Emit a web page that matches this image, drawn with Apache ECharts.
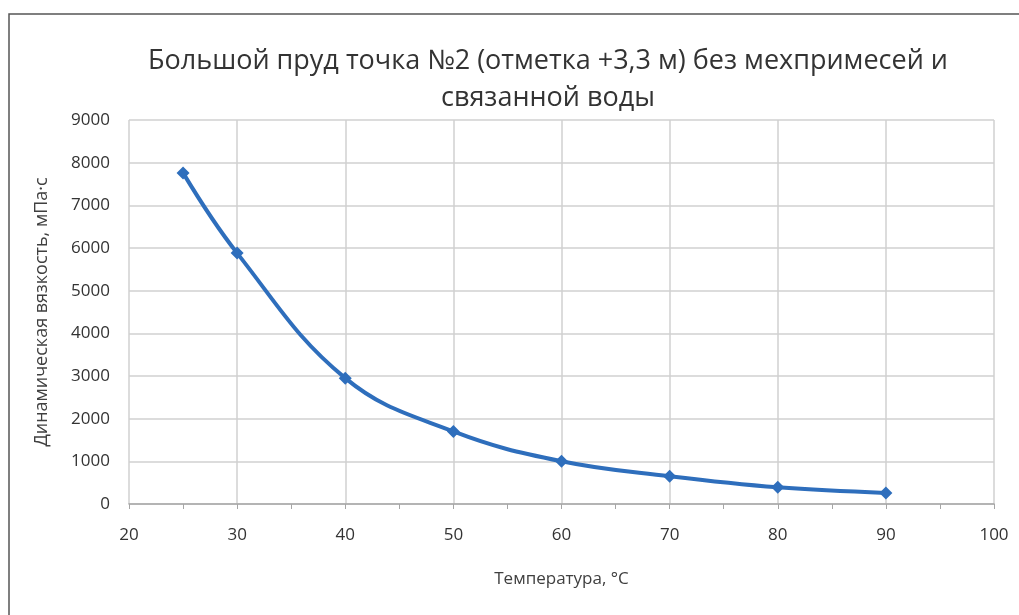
<!DOCTYPE html>
<html>
<head>
<meta charset="utf-8">
<script src="https://cdn.jsdelivr.net/npm/echarts@6/dist/echarts.min.js"></script>
<style>
html,body{margin:0;padding:0;background:#fff;}
#chart{width:1019px;height:615px;}
</style>
</head>
<body>
<div id="chart"></div>
<script>
const titleText = 'Большой пруд точка №2 (отметка +3,3 м) без мехпримесей и\nсвязанной воды';
const xAxisName = 'Температура, °C';
const yAxisName = 'Динамическая вязкость, мПа·с';
const temperatures = [25, 30, 40, 50, 60, 70, 80, 90];
const viscosity = [7760, 5880, 2950, 1700, 1000, 650, 390, 260];
const xTicks = [20, 30, 40, 50, 60, 70, 80, 90, 100];
const yTicks = [0, 1000, 2000, 3000, 4000, 5000, 6000, 7000, 8000, 9000];

const font = '"Open Sans", "Noto Sans", sans-serif';
const chart = echarts.init(document.getElementById('chart'), null, {renderer: 'canvas'});
chart.setOption({
  backgroundColor: '#ffffff',
  animation: false,
  graphic: [{
    type: 'rect',
    shape: {x: 9, y: 14, width: 1030, height: 620},
    style: {fill: 'none', stroke: '#555555', lineWidth: 1.5}
  }],
  title: {
    text: titleText,
    left: 543,
    textAlign: 'center',
    top: 38,
    textStyle: {fontFamily: font, fontSize: 27, fontWeight: 'normal', color: '#333333', lineHeight: 37}
  },
  grid: {left: 129, right: 25, top: 120, bottom: 111},
  xAxis: {
    type: 'value',
    min: xTicks[0],
    max: xTicks[xTicks.length - 1],
    interval: 10,
    name: xAxisName,
    nameLocation: 'middle',
    nameGap: 67,
    nameTextStyle: {fontFamily: font, fontSize: 17, color: '#404040'},
    axisLine: {show: true, lineStyle: {color: '#a6a6a6', width: 1.5}},
    axisTick: {show: true, length: 5, lineStyle: {color: '#a6a6a6'}},
    minorTick: {show: true, splitNumber: 2, length: 5, lineStyle: {color: '#a6a6a6'}},
    axisLabel: {fontFamily: font, fontSize: 17, color: '#333333', margin: 23},
    splitLine: {show: true, lineStyle: {color: '#d0d0d0', width: 1.5}}
  },
  yAxis: {
    type: 'value',
    min: yTicks[0],
    max: yTicks[yTicks.length - 1],
    interval: 1000,
    name: yAxisName,
    nameLocation: 'middle',
    nameGap: 78,
    nameRotate: 90,
    nameTextStyle: {fontFamily: font, fontSize: 18, color: '#404040'},
    axisLine: {show: false},
    axisTick: {show: false},
    axisLabel: {fontFamily: font, fontSize: 17, color: '#333333', margin: 19, formatter: v => String(v)},
    splitLine: {show: true, lineStyle: {color: '#d0d0d0', width: 1.5}}
  },
  series: [{
    type: 'line',
    data: temperatures.map((t, i) => [t, viscosity[i]]),
    smooth: 0.4,
    symbol: 'diamond',
    symbolSize: 13,
    lineStyle: {color: '#2e6ebc', width: 4},
    itemStyle: {color: '#2e6ebc'}
  }]
});
</script>
</body>
</html>
